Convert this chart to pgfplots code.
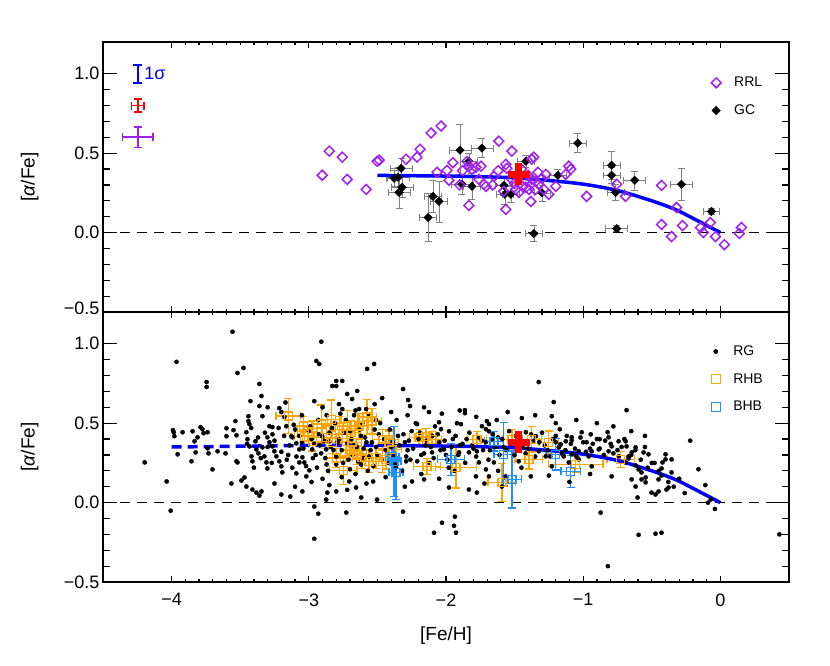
\documentclass[border=0pt]{standalone}
\usepackage{pgfplots}
\pgfplotsset{compat=1.18}
\usepackage{pgfplotstable}
\usepackage{fontspec}
\setmainfont{Liberation Sans}
\definecolor{rrl}{RGB}{160,32,240}
\definecolor{rhb}{RGB}{255,165,0}
\definecolor{bhb}{RGB}{30,144,255}
\definecolor{fitblue}{RGB}{0,0,255}

\pgfplotstableread{
x y
-2.851 0.513
-2.756 0.475
-2.902 0.361
-2.720 0.335
-2.582 0.272
-2.502 0.449
-2.487 0.456
-2.291 0.462
-2.211 0.475
-2.189 0.525
-2.109 0.627
-2.036 0.671
-2.065 0.380
-1.993 0.392
-1.978 0.329
-1.833 0.171
-1.615 0.576
-1.520 0.513
-1.564 0.146
-1.382 0.196
-1.847 0.449
-1.833 0.418
-1.811 0.399
-1.782 0.411
-1.745 0.418
-1.760 0.335
-1.724 0.304
-1.709 0.291
-1.651 0.354
-1.564 0.430
-1.556 0.405
-1.520 0.335
-1.491 0.272
-1.469 0.253
-1.418 0.285
-1.375 0.462
-1.360 0.475
-1.375 0.335
-1.324 0.304
-1.273 0.367
-1.287 0.272
-1.950 0.440
-1.900 0.300
-1.880 0.390
-1.251 0.241
-1.200 0.291
-1.127 0.367
-1.105 0.418
-1.091 0.399
-0.975 0.228
-0.756 0.304
-0.691 0.228
-0.429 0.297
-0.429 0.051
-0.356 -0.025
-0.320 0.158
-0.276 0.044
-0.145 0.032
-0.124 0.000
-0.073 0.063
-0.036 -0.025
0.029 -0.076
0.138 -0.006
0.153 0.032
-1.396 0.272
-1.345 0.323
-1.450 0.400
-1.420 0.330
-1.500 0.310
-1.400 0.360
-1.330 0.380
-1.300 0.340
-1.440 0.290
-1.350 0.270
-1.620 0.390
-1.660 0.300
-1.580 0.260
}\rrldata

\pgfplotstableread{
x y ex ey
-2.327 0.405 0.08 0.06
-2.349 0.348 0.08 0.06
-2.378 0.342 0.06 0.05
-2.320 0.285 0.08 0.06
-2.342 0.253 0.08 0.10
-2.131 0.095 0.06 0.15
-2.095 0.228 0.06 0.10
-2.051 0.196 0.06 0.13
-1.898 0.519 0.08 0.16
-1.738 0.532 0.08 0.06
-1.833 0.449 0.06 0.05
-1.884 0.304 0.08 0.06
-1.811 0.291 0.06 0.08
-1.578 0.297 0.06 0.06
-1.527 0.241 0.06 0.05
-1.571 0.241 0.06 0.06
-1.418 0.449 0.06 0.04
-1.360 -0.006 0.06 0.05
-1.185 0.361 0.06 0.04
-1.300 0.250 0.06 0.05
-1.040 0.563 0.06 0.06
-0.793 0.424 0.06 0.09
-0.793 0.361 0.06 0.05
-0.764 0.253 0.06 0.05
-0.756 0.025 0.08 0.02
-0.625 0.329 0.08 0.06
-0.284 0.304 0.08 0.10
-0.065 0.133 0.06 0.02
}\gcdata

\pgfplotstableread{
x y
-2.50 0.360
-2.00 0.356
-1.75 0.352
-1.50 0.345
-1.25 0.328
-1.00 0.305
-0.75 0.265
-0.50 0.200
-0.33 0.146
-0.20 0.090
-0.10 0.045
0.00 0.000
}\fitdata

\pgfplotstableread{
x y
-4.00 0.350
-3.50 0.355
-3.00 0.360
-2.50 0.360
}\fitdash

\pgfplotstableread{
x y
-4.196 0.253
-4.036 0.133
-4.007 -0.051
-3.964 0.886
-3.990 0.456
-3.985 0.443
-3.980 0.418
-3.956 0.304
-3.920 0.443
-3.855 0.260
-3.847 0.449
-3.833 0.386
-3.825 0.316
-3.811 0.411
-3.789 0.475
-3.775 0.462
-3.767 0.437
-3.745 0.759
-3.745 0.728
-3.738 0.443
-3.738 0.342
-3.731 0.310
-3.702 0.209
-3.665 0.323
-3.607 0.310
-3.600 0.468
-3.600 0.418
-3.564 0.120
-3.556 1.076
-3.549 0.456
-3.535 0.513
-3.527 0.424
-3.527 0.260
-3.520 0.253
-3.520 0.816
-3.476 0.848
-3.491 0.139
-3.469 0.158
-3.455 0.101
-3.411 0.082
-3.382 0.063
-3.360 0.044
-3.345 0.070
-3.440 0.544
-3.440 0.513
-3.433 0.494
-3.425 0.639
-3.360 0.747
-3.345 0.671
-3.360 0.608
-3.338 0.544
-3.455 0.443
-3.447 0.399
-3.433 0.354
-3.418 0.291
-3.411 0.260
-3.389 0.386
-3.382 0.335
-3.367 0.310
-3.338 0.348
-3.324 0.291
-3.309 0.253
-3.302 0.215
-3.287 0.481
-3.265 0.475
-3.265 0.430
-3.302 0.411
-3.287 0.380
-3.265 0.354
-3.251 0.323
-3.236 0.291
-3.215 0.260
-3.200 0.228
-3.193 0.190
-3.215 0.595
-3.200 0.570
-3.178 0.538
-3.164 0.481
-3.127 0.418
-3.120 0.411
-3.091 0.373
-3.069 0.335
-3.069 0.253
-3.091 0.184
-3.047 0.285
-3.033 0.253
-3.018 0.165
-2.996 0.203
-2.975 0.335
-2.960 0.639
-2.945 0.892
-2.924 0.873
-2.909 1.013
-2.902 0.418
-2.873 0.335
-2.851 0.386
-2.829 0.734
-2.800 0.734
-2.800 0.766
-2.756 0.766
-2.756 0.589
-2.720 0.684
-2.684 0.652
-2.647 0.703
-2.633 0.589
-2.582 0.589
-2.575 0.842
-2.524 0.873
-2.465 0.658
-3.200 0.051
-3.135 0.038
-3.047 0.070
-2.931 -0.070
-2.960 -0.025
-2.873 0.019
-2.865 0.063
-2.800 0.070
-2.727 -0.063
-2.705 0.133
-2.655 0.095
-2.618 0.032
-2.531 0.133
-2.502 0.019
-2.960 -0.228
-2.98 0.40
-2.95 0.30
-2.92 0.36
-2.88 0.28
-2.85 0.44
-2.82 0.33
-2.78 0.40
-2.75 0.25
-2.72 0.37
-2.70 0.45
-2.68 0.30
-2.65 0.35
-2.62 0.42
-2.60 0.28
-2.58 0.38
-2.55 0.33
-2.52 0.46
-2.50 0.30
-2.94 0.22
-2.90 0.15
-2.86 0.20
-2.80 0.24
-2.76 0.16
-2.70 0.21
-2.66 0.18
-2.62 0.24
-2.57 0.20
-2.53 0.23
-2.99 0.48
-2.93 0.52
-2.87 0.55
-2.81 0.50
-2.77 0.56
-2.73 0.52
-2.67 0.55
-2.61 0.50
-2.56 0.55
-2.51 0.52
-3.10 0.46
-3.15 0.30
-3.05 0.38
-3.12 0.22
-2.313 0.715
-2.276 0.646
-2.262 0.608
-2.124 0.570
-1.324 0.759
-1.215 0.633
-1.229 0.544
-1.171 0.462
-1.447 0.532
-1.862 0.582
-1.862 0.563
-1.702 0.513
-0.684 0.582
-1.011 0.443
-1.084 0.411
-1.084 0.392
-0.945 0.430
-0.880 0.399
-0.822 0.443
-0.815 0.411
-0.742 0.386
-0.691 0.386
-0.684 0.354
-0.618 0.348
-0.647 0.316
-0.560 0.316
-0.524 0.304
-0.887 0.335
-0.938 0.323
-0.960 0.291
-1.033 0.272
-0.793 0.354
-0.815 0.323
-0.742 0.291
-0.669 0.278
-0.691 0.253
-0.618 0.234
-0.596 0.209
-0.575 0.190
-0.545 0.158
-0.618 0.101
-0.575 0.146
-0.545 0.127
-0.451 0.146
-0.451 0.070
-0.502 0.063
-0.473 0.051
-0.393 0.082
-0.378 0.095
-0.400 0.272
-0.356 0.272
-0.429 0.215
-0.422 0.253
-0.356 0.190
-0.400 0.304
-0.793 0.165
-0.604 0.032
-0.647 0.146
-0.473 -0.196
-0.429 -0.190
-0.596 -0.203
-0.873 -0.063
-0.938 0.228
-1.105 0.253
-1.084 0.304
-1.033 0.323
-0.975 0.380
-1.164 0.367
-1.200 0.380
-2.313 -0.057
-2.029 -0.127
-2.087 -0.190
-1.935 -0.089
-1.942 -0.146
-1.927 -0.190
-2.211 0.494
-2.051 0.506
-2.036 0.462
-1.978 0.449
-1.891 0.494
-1.905 0.316
-1.833 0.316
-1.775 0.323
-1.760 0.253
-1.782 0.165
-1.709 0.209
-1.687 0.165
-1.651 0.253
-1.687 0.449
-1.709 0.462
-1.738 0.481
-1.978 0.095
-1.833 0.082
-1.775 0.063
-2.247 0.133
-2.160 0.146
-2.364 0.222
-2.415 0.291
-2.291 0.260
-2.102 0.316
-2.015 0.335
-1.687 0.494
-1.665 0.399
-1.418 0.443
-1.345 0.418
-1.324 0.323
-1.273 0.291
-1.229 0.228
-1.178 0.348
-1.142 0.291
-1.127 0.386
-1.382 0.165
-1.564 0.165
-1.593 0.101
-1.556 0.146
-2.45 0.40
-2.40 0.35
-2.38 0.30
-2.35 0.42
-2.30 0.38
-2.28 0.33
-2.25 0.45
-2.20 0.40
-2.18 0.30
-2.15 0.36
-2.10 0.42
-2.05 0.38
-2.00 0.30
-1.95 0.40
-1.90 0.36
-2.48 0.50
-2.42 0.25
-2.36 0.52
-2.32 0.20
-2.26 0.27
-2.22 0.50
-2.12 0.25
-2.08 0.48
-1.98 0.22
-1.92 0.50
-1.85 0.40
-1.80 0.34
-1.74 0.39
-1.68 0.33
-1.62 0.41
-1.58 0.35
-1.54 0.45
-1.50 0.30
-1.46 0.41
-1.40 0.34
-1.36 0.39
-1.30 0.44
-1.26 0.33
-1.22 0.40
-1.16 0.31
-1.12 0.42
-1.06 0.34
-1.00 0.38
-0.95 0.34
-0.90 0.40
-0.85 0.30
-0.80 0.37
-0.75 0.33
-0.70 0.40
-0.65 0.30
-0.55 0.35
-0.50 0.25
-0.45 0.20
-0.22 0.39
-0.11 0.11
-0.07 0.02
-0.04 -0.04
-0.09 0.00
0.43 -0.20
-0.16 0.21
-0.82 -0.40
-3.45 0.37
-3.42 0.47
-3.40 0.22
-3.37 0.41
-3.35 0.28
-3.32 0.44
-3.30 0.35
-3.27 0.25
-3.25 0.39
-3.22 0.47
-3.20 0.32
-3.18 0.42
-3.16 0.27
-3.14 0.36
-3.11 0.49
-3.09 0.29
-3.07 0.42
-3.04 0.34
-3.02 0.23
-3.00 0.45
-2.97 0.28
-2.96 0.37
-2.93 0.43
-2.91 0.31
-2.89 0.39
-2.87 0.24
-2.84 0.35
-2.83 0.47
-2.80 0.29
-2.79 0.38
-2.76 0.33
-2.74 0.44
-2.71 0.27
-2.69 0.40
-2.67 0.36
-2.64 0.26
-2.63 0.46
-2.60 0.34
-2.59 0.41
-2.56 0.29
-2.54 0.38
-2.51 0.35
-2.49 0.43
-2.47 0.27
-2.44 0.33
-2.41 0.46
-2.39 0.38
-2.37 0.24
-2.34 0.36
-2.31 0.43
-2.29 0.29
-2.27 0.39
-2.24 0.34
-2.21 0.26
-2.19 0.44
-2.16 0.31
-2.14 0.39
-2.11 0.35
-2.09 0.28
-2.06 0.43
-2.04 0.33
-2.01 0.39
-1.99 0.27
-1.96 0.35
-1.93 0.42
-1.91 0.30
-1.88 0.37
-1.86 0.25
-1.83 0.44
-1.81 0.36
-1.78 0.29
-1.76 0.41
-1.73 0.33
-1.71 0.38
-1.69 0.27
-1.66 0.43
-1.64 0.35
-1.61 0.30
-1.59 0.40
-1.56 0.33
-1.53 0.37
-1.49 0.42
-1.47 0.26
-1.44 0.35
-1.42 0.31
-1.38 0.43
-1.35 0.29
-1.32 0.38
-1.28 0.36
-1.24 0.29
-1.20 0.42
-1.17 0.36
-1.13 0.33
-1.09 0.37
-1.05 0.29
-1.02 0.41
-0.98 0.32
-0.93 0.37
-0.88 0.34
-0.84 0.39
-0.78 0.31
-0.72 0.35
-0.67 0.29
-0.62 0.33
-0.58 0.27
-0.53 0.22
-0.48 0.25
-0.43 0.17
-0.38 0.13
-0.34 0.10
-0.30 0.15
-0.26 0.06
-3.25 0.12
-3.10 0.10
-2.98 0.13
-2.85 0.11
-2.72 0.08
-2.58 0.12
-2.44 0.16
-2.30 0.10
-2.18 0.18
-2.05 0.15
-1.94 0.20
-1.72 0.12
-1.62 0.20
-1.45 0.22
-1.25 0.17
-1.10 0.13
-0.95 0.18
-3.30 0.60
-3.17 0.63
-3.05 0.55
-2.90 0.60
-2.78 0.62
-2.66 0.58
-2.52 0.62
-2.40 0.57
-2.28 0.55
-2.16 0.60
-2.03 0.56
-1.90 0.58
-1.78 0.54
-1.63 0.52
-1.55 0.57
-1.35 0.55
-1.20 0.50
-1.05 0.52
-0.90 0.50
-0.78 0.48
-0.65 0.45
-0.55 0.42
}\rgdata

\pgfplotstableread{
x y ex ey
-3.149 0.544 0.09 0.11
-3.040 0.481 0.07 0.06
-3.011 0.449 0.07 0.06
-2.975 0.443 0.07 0.07
-2.909 0.494 0.07 0.12
-2.836 0.525 0.07 0.12
-2.778 0.462 0.07 0.08
-2.720 0.481 0.07 0.10
-2.691 0.443 0.07 0.07
-2.633 0.481 0.07 0.08
-2.575 0.538 0.07 0.11
-2.538 0.513 0.07 0.08
-2.975 0.386 0.07 0.06
-3.033 0.418 0.07 0.06
-2.873 0.411 0.07 0.07
-2.829 0.380 0.07 0.07
-2.756 0.430 0.07 0.07
-2.684 0.380 0.07 0.07
-2.611 0.285 0.07 0.07
-2.560 0.260 0.07 0.07
-2.509 0.285 0.07 0.07
-2.465 0.260 0.07 0.07
-2.415 0.380 0.07 0.07
-2.749 0.203 0.10 0.09
-2.465 0.399 0.07 0.06
-2.415 0.399 0.07 0.06
-2.393 0.335 0.07 0.06
-2.436 0.272 0.07 0.06
-2.196 0.411 0.07 0.05
-2.145 0.418 0.07 0.05
-2.102 0.399 0.07 0.05
-2.138 0.228 0.10 0.05
-1.927 0.222 0.15 0.13
-1.775 0.399 0.07 0.05
-1.593 0.127 0.10 0.12
-1.520 0.399 0.07 0.06
-1.396 0.272 0.10 0.06
-1.375 0.399 0.07 0.08
-1.251 0.380 0.07 0.07
-1.055 0.241 0.20 0.05
-0.727 0.272 0.10 0.05
-2.700 0.330 0.07 0.06
-2.650 0.300 0.07 0.06
-2.800 0.280 0.07 0.06
}\rhbdata

\pgfplotstableread{
x y ex ey
-2.378 0.260 0.05 0.22
-2.364 0.190 0.05 0.17
-2.393 0.290 0.05 0.10
-1.964 0.272 0.10 0.10
-1.651 0.386 0.07 0.06
-1.580 0.304 0.07 0.20
-1.520 0.146 0.07 0.18
-1.200 0.304 0.07 0.10
-1.091 0.196 0.07 0.10
}\bhbdata

\pgfplotsset{
  panel/.style={
    scale only axis, width=686pt, height=270pt,
    xmin=-4.5, xmax=0.5, ymin=-0.5, ymax=1.2,
    xtick={-4,-3,-2,-1,0},
    ytick={-0.5,0,0.5,1},
    minor x tick num=9, minor y tick num=4,
    tick align=inside,
    axis line style={line width=1.6pt},
    every tick/.style={black, line width=1.2pt},
    xtick style={/pgfplots/major tick length=6pt, /pgfplots/minor tick length=3pt},
    ytick style={/pgfplots/major tick length=14pt, /pgfplots/minor tick length=7pt},
    tick label style={font=\fontsize{18}{20}\selectfont},
    xticklabel style={yshift=-8pt},
    every axis y label/.style={at={(axis description cs:-0.107,0.5)}, rotate=90, anchor=center, font=\fontsize{19}{22}\selectfont},
    ylabel={[\textit{α}/Fe]},
    legend style={draw=none, fill=none, font=\fontsize{14}{16}\selectfont,
      legend cell align=left, row sep=12.5pt, anchor=north west},
    err/.style={error bars/.cd, x dir=both, x explicit, y dir=both, y explicit},
  },
}

\begin{document}
\begin{tikzpicture}
\path[use as bounding box] (-103pt,-83pt) rectangle (727pt,582pt);

% ---------- top panel ----------
\begin{axis}[panel, at={(0pt,270pt)}, anchor=south west, xticklabels={},
  yticklabels={\raisebox{8pt}{−0.5},0.0,0.5,1.0},
  legend style={at={(0.882,0.885)}}]
\addlegendimage{only marks, mark=square, mark options={rotate=45, draw=rrl, line width=1.5pt}, mark size=3.5pt}
\addlegendentry{\hspace{11pt}RRL}
\addlegendimage{only marks, mark=square*, mark options={rotate=45, fill=black, draw=black}, mark size=3pt}
\addlegendentry{\hspace{11pt}GC}

\addplot[forget plot, black, line width=1.5pt, dash pattern=on 10pt off 7pt] coordinates {(-4.5,0) (0.5,0)};

\addplot[forget plot, only marks, mark=square*, mark size=3pt,
  mark options={rotate=45, fill=black, draw=black}, err,
  error bar style={gray, line width=0.6pt},
  error mark options={rotate=90, gray, mark size=3.5pt, line width=0.6pt}]
  table[x=x, y=y, x error=ex, y error=ey] {\gcdata};

\addplot[forget plot, only marks, mark=square, mark size=3.5pt,
  mark options={rotate=45, draw=rrl, line width=1.5pt}]
  table[x=x, y=y] {\rrldata};

\addplot[forget plot, fitblue, line width=3.5pt, smooth] table[x=x, y=y] {\fitdata};

\addplot[forget plot, only marks, mark=+, mark size=11pt, red, line width=7pt] coordinates {(-1.47,0.367)};

% error bar key
\addplot[forget plot, fitblue, mark=none,
  error bars/.cd, y dir=both, y explicit,
  error bar style={fitblue, line width=1.6pt},
  error mark options={rotate=90, fitblue, mark size=4.5pt, line width=1.6pt}]
  coordinates {(-4.247,1.0) +- (0,0.057)};
\addplot[forget plot, red, mark=none, err,
  error bar style={red, line width=1.6pt},
  error mark options={rotate=90, red, mark size=4pt, line width=1.6pt}]
  coordinates {(-4.247,0.80) +- (0.045,0.04)};
\addplot[forget plot, rrl, mark=none, err,
  error bar style={rrl, line width=1.6pt},
  error mark options={rotate=90, rrl, mark size=4pt, line width=1.6pt}]
  coordinates {(-4.247,0.60) +- (0.11,0.063)};
\node[anchor=west, text=fitblue, font=\fontsize{18}{20}\selectfont, inner sep=0pt] at (axis cs:-4.20,1.0) {1σ};
\end{axis}

% ---------- bottom panel ----------
\begin{axis}[panel, at={(0pt,0pt)}, anchor=south west,
  yticklabels={−0.5,0.0,0.5,1.0},
  xticklabels={−4,−3,−2,−1,0},
  xlabel={[Fe/H]},
  every axis x label/.style={at={(axis description cs:0.5,-0.2)}, anchor=center, font=\fontsize{19}{22}\selectfont},
  legend style={at={(0.882,0.89)}}]
\addlegendimage{only marks, mark=*, mark size=2.1pt, black}
\addlegendentry{\hspace{11pt}RG}
\addlegendimage{only marks, mark=square, mark size=4.5pt, mark options={draw=rhb, line width=1.5pt}}
\addlegendentry{\hspace{11pt}RHB}
\addlegendimage{only marks, mark=square, mark size=4.5pt, mark options={draw=bhb, line width=1.5pt}}
\addlegendentry{\hspace{11pt}BHB}

\addplot[forget plot, black, line width=1.5pt, dash pattern=on 10pt off 7pt] coordinates {(-4.5,0) (0.5,0)};

\addplot[forget plot, only marks, mark=*, mark size=2.1pt, black] table[x=x, y=y] {\rgdata};

\addplot[forget plot, only marks, mark=square, mark size=4pt,
  mark options={draw=rhb, line width=1.4pt}, err,
  error bar style={rhb, line width=1.4pt},
  error mark options={rotate=90, rhb, mark size=4pt, line width=1.4pt}]
  table[x=x, y=y, x error=ex, y error=ey] {\rhbdata};

\addplot[forget plot, only marks, mark=square, mark size=4pt,
  mark options={draw=bhb, line width=1.4pt}, err,
  error bar style={bhb, line width=1.4pt},
  error mark options={rotate=90, bhb, mark size=4pt, line width=1.4pt}]
  table[x=x, y=y, x error=ex, y error=ey] {\bhbdata};

\addplot[forget plot, fitblue, line width=3.5pt, dash pattern=on 10pt off 6pt] table[x=x, y=y] {\fitdash};
\addplot[forget plot, fitblue, line width=3.5pt, smooth] table[x=x, y=y] {\fitdata};

\addplot[forget plot, only marks, mark=+, mark size=11pt, red, line width=7pt] coordinates {(-1.47,0.38)};
\end{axis}
\end{tikzpicture}
\end{document}
